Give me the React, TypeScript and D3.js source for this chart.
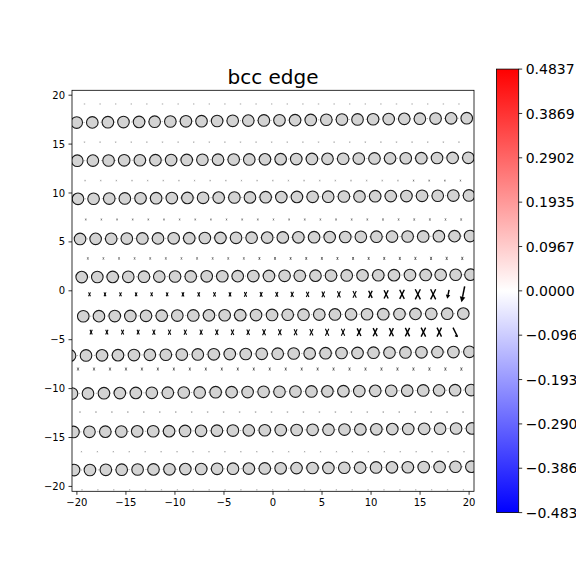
import React from 'react';
import * as d3 from 'd3';

const TITLE = 'bcc edge';
const X_TICKS = [-20, -15, -10, -5, 0, 5, 10, 15, 20];
const Y_TICKS = [-20, -15, -10, -5, 0, 5, 10, 15, 20];
const CBAR_TICKS = [0.4837, 0.3869, 0.2902, 0.1935, 0.0967, 0, -0.0967, -0.1935, -0.2902, -0.3869, -0.4837];
const CBAR_MAX = 0.4837;

// ---- atom rows (x and y of every atom, top row first) ----
const ROW_A_X = [-20.02,-18.43,-16.84,-15.25,-13.66,-12.07,-10.47,-8.88,-7.29,-5.70,-4.11,-2.52,-0.93,0.66,2.25,3.85,5.44,7.03,8.62,10.21,11.80,13.39,14.98,16.58,18.17,19.76];
const ROW_A_Y = [17.20,17.22,17.24,17.25,17.27,17.29,17.31,17.33,17.34,17.36,17.38,17.40,17.42,17.43,17.45,17.47,17.49,17.51,17.52,17.54,17.56,17.58,17.60,17.61,17.63,17.65];
const ROW_B_X = [-19.96,-18.37,-16.77,-15.18,-13.58,-11.99,-10.39,-8.80,-7.20,-5.61,-4.01,-2.42,-0.82,0.78,2.37,3.97,5.56,7.16,8.75,10.35,11.94,13.54,15.13,16.73,18.32,19.92];
const ROW_B_Y = [13.30,13.31,13.32,13.34,13.35,13.36,13.37,13.38,13.40,13.41,13.42,13.43,13.44,13.46,13.47,13.48,13.49,13.50,13.52,13.53,13.54,13.55,13.56,13.58,13.59,13.60];
const ROW_C_X = [-19.89,-18.30,-16.70,-15.11,-13.51,-11.92,-10.32,-8.73,-7.13,-5.54,-3.94,-2.35,-0.75,0.85,2.44,4.04,5.63,7.23,8.82,10.42,12.01,13.61,15.20,16.80,18.39,19.99];
const ROW_C_Y = [9.40,9.41,9.43,9.44,9.46,9.47,9.48,9.50,9.51,9.53,9.54,9.55,9.57,9.58,9.60,9.61,9.62,9.64,9.65,9.67,9.68,9.69,9.71,9.72,9.74,9.75];
const ROW_D_X = [-19.68,-18.09,-16.50,-14.91,-13.32,-11.73,-10.13,-8.54,-6.95,-5.36,-3.77,-2.18,-0.59,1.00,2.59,4.19,5.78,7.37,8.96,10.55,12.14,13.73,15.32,16.92,18.51,20.10];
const ROW_D_Y = [5.30,5.31,5.32,5.34,5.35,5.36,5.37,5.38,5.40,5.41,5.42,5.43,5.44,5.46,5.47,5.48,5.49,5.50,5.52,5.53,5.54,5.55,5.56,5.58,5.59,5.60];
const ROW_E_X = [-19.51,-17.92,-16.35,-14.76,-13.16,-11.60,-9.99,-8.39,-6.76,-5.17,-3.60,-2.01,-0.41,1.18,2.73,4.33,5.92,7.52,9.13,10.74,12.34,13.97,15.57,17.10,18.63,20.14];
const ROW_E_Y = [1.40,1.41,1.42,1.43,1.44,1.45,1.46,1.47,1.48,1.49,1.50,1.51,1.52,1.53,1.54,1.55,1.56,1.57,1.58,1.59,1.60,1.61,1.62,1.63,1.64,1.65];
const ROW_F_X = [-19.35,-17.75,-16.14,-14.55,-12.95,-11.35,-9.76,-8.13,-6.53,-4.93,-3.34,-1.73,-0.10,1.50,3.11,4.72,6.32,7.96,9.59,11.25,12.90,14.53,16.14,17.77,19.41];
const ROW_F_Y = [-2.60,-2.59,-2.58,-2.57,-2.56,-2.54,-2.53,-2.52,-2.51,-2.50,-2.49,-2.48,-2.47,-2.45,-2.44,-2.43,-2.42,-2.41,-2.40,-2.39,-2.38,-2.36,-2.35,-2.34,-2.33];
const ROW_G_X = [-20.70,-19.07,-17.44,-15.81,-14.18,-12.56,-10.93,-9.30,-7.67,-6.04,-4.41,-2.78,-1.15,0.48,2.11,3.74,5.36,6.99,8.62,10.25,11.88,13.51,15.14,16.77,18.40,20.03];
const ROW_G_Y = [-6.63,-6.61,-6.60,-6.58,-6.57,-6.55,-6.54,-6.52,-6.51,-6.49,-6.47,-6.46,-6.44,-6.43,-6.41,-6.40,-6.38,-6.36,-6.35,-6.33,-6.32,-6.30,-6.29,-6.27,-6.26,-6.24];
const ROW_H_X = [-20.50,-18.87,-17.24,-15.62,-13.99,-12.36,-10.73,-9.10,-7.48,-5.85,-4.22,-2.59,-0.96,0.66,2.29,3.92,5.55,7.18,8.80,10.43,12.06,13.69,15.32,16.94,18.57,20.20];
const ROW_H_Y = [-10.50,-10.49,-10.47,-10.46,-10.44,-10.43,-10.42,-10.40,-10.39,-10.37,-10.36,-10.35,-10.33,-10.32,-10.30,-10.29,-10.28,-10.26,-10.25,-10.23,-10.22,-10.21,-10.19,-10.18,-10.16,-10.15];
const ROW_I_X = [-20.35,-18.72,-17.10,-15.47,-13.85,-12.22,-10.60,-8.97,-7.34,-5.72,-4.09,-2.47,-0.84,0.79,2.41,4.04,5.66,7.29,8.91,10.54,12.17,13.79,15.42,17.04,18.67,20.29];
const ROW_I_Y = [-14.43,-14.42,-14.40,-14.39,-14.37,-14.36,-14.35,-14.33,-14.32,-14.30,-14.29,-14.27,-14.26,-14.24,-14.23,-14.21,-14.20,-14.19,-14.17,-14.16,-14.14,-14.13,-14.11,-14.10,-14.08,-14.07];
const ROW_J_X = [-20.29,-18.67,-17.05,-15.43,-13.81,-12.19,-10.56,-8.94,-7.32,-5.70,-4.08,-2.46,-0.84,0.78,2.40,4.03,5.65,7.27,8.89,10.51,12.13,13.75,15.37,16.99,18.61,20.23];
const ROW_J_Y = [-18.33,-18.32,-18.30,-18.29,-18.27,-18.26,-18.25,-18.23,-18.22,-18.20,-18.19,-18.18,-18.16,-18.15,-18.13,-18.12,-18.11,-18.09,-18.08,-18.06,-18.05,-18.04,-18.02,-18.01,-17.99,-17.98];

const ATOM_ROWS_X = [ROW_A_X, ROW_B_X, ROW_C_X, ROW_D_X, ROW_E_X, ROW_F_X, ROW_G_X, ROW_H_X, ROW_I_X, ROW_J_X];
const ATOM_ROWS_Y = [ROW_A_Y, ROW_B_Y, ROW_C_Y, ROW_D_Y, ROW_E_Y, ROW_F_Y, ROW_G_Y, ROW_H_Y, ROW_I_Y, ROW_J_Y];

// ---- differential displacement arrows: one row between each pair of atom rows ----
const ARROW_ROW_Y = [19.1, 15.2, 11.27, 7.29, 3.31, -0.36, -4.23, -8.0, -12.4, -16.45, -20.35];
const ARROW_ROW_SRC = [0, 0, 1, 2, 3, 4, 5, 6, 7, 8, 9];
const MAG_0 = [0.1,0.1,0.1,0.1,0.1,0.1,0.1,0.1,0.1,0.1,0.1,0.1,0.1,0.1,0.1,0.1,0.1,0.1,0.1,0.1,0.1,0.1,0.1,0.1,0.1];
const MAG_1 = [0.12,0.12,0.12,0.12,0.12,0.12,0.12,0.12,0.12,0.12,0.12,0.12,0.12,0.12,0.12,0.12,0.12,0.12,0.13,0.13,0.13,0.13,0.13,0.13,0.13];
const MAG_2 = [0.14,0.14,0.14,0.14,0.14,0.14,0.14,0.14,0.14,0.14,0.14,0.14,0.15,0.15,0.15,0.15,0.15,0.16,0.16,0.16,0.16,0.17,0.17,0.17,0.17];
const MAG_3 = [0.18,0.18,0.18,0.18,0.18,0.18,0.18,0.18,0.18,0.18,0.19,0.19,0.19,0.19,0.2,0.2,0.2,0.21,0.21,0.22,0.22,0.23,0.23,0.23,0.23];
const MAG_4 = [0.25,0.25,0.25,0.25,0.25,0.25,0.25,0.25,0.26,0.26,0.26,0.27,0.27,0.27,0.28,0.28,0.29,0.29,0.3,0.3,0.31,0.32,0.32,0.33,0.33];
const MAG_5 = [0.4,0.4,0.4,0.4,0.4,0.4,0.44,0.44,0.44,0.44,0.48,0.48,0.48,0.53,0.53,0.58,0.63,0.68,0.73,0.84,0.94,1.04,1.04,0.92,1.63];
const KIND_5 = ['x','x','x','x','x','x','x','x','x','x','x','x','x','x','x','x','x','x','x','x','x','x','x','down','down'];
const MAG_6 = [0.48,0.48,0.48,0.48,0.52,0.52,0.52,0.52,0.56,0.56,0.56,0.61,0.61,0.61,0.66,0.71,0.71,0.77,0.82,0.82,0.87,0.92,0.92,0.92];
const KIND_6 = ['x','x','x','x','x','x','x','x','x','x','x','x','x','x','x','x','x','x','x','x','x','x','x','bs'];
const MAG_7 = [0.3,0.3,0.3,0.3,0.3,0.3,0.3,0.3,0.3,0.3,0.3,0.3,0.3,0.3,0.3,0.3,0.31,0.31,0.31,0.32,0.32,0.32,0.33,0.33,0.33];
const MAG_8 = [0.15,0.15,0.15,0.15,0.15,0.15,0.15,0.15,0.15,0.15,0.15,0.15,0.15,0.15,0.15,0.15,0.15,0.15,0.15,0.15,0.16,0.16,0.16,0.16,0.16];
const MAG_9 = [0.12,0.12,0.12,0.12,0.12,0.12,0.12,0.12,0.12,0.12,0.12,0.12,0.12,0.12,0.12,0.12,0.12,0.12,0.12,0.12,0.12,0.12,0.12,0.12,0.12];
const MAG_10 = [0.1,0.1,0.1,0.1,0.1,0.1,0.1,0.1,0.1,0.1,0.1,0.1,0.1,0.1,0.1,0.1,0.1,0.1,0.1,0.1,0.1,0.1,0.1,0.1,0.1];
const ARROW_MAGS = [MAG_0, MAG_1, MAG_2, MAG_3, MAG_4, MAG_5, MAG_6, MAG_7, MAG_8, MAG_9, MAG_10];
const ARROW_KINDS: (string[] | null)[] = [null, null, null, null, null, KIND_5, KIND_6, null, null, null, null];

const AX = { left: 72, right: 474, top: 90.3, bottom: 491.3 };
const CB = { left: 496.5, width: 22.2, top: 69.1, bottom: 512.6 };
const FONT = 'DejaVu Sans, sans-serif';

export default function App() {
  const x = d3.scaleLinear().domain([-20.5, 20.5]).range([AX.left, AX.right]);
  const y = d3.scaleLinear().domain([-20.5, 20.5]).range([AX.bottom, AX.top]);
  const cy = d3.scaleLinear().domain([-CBAR_MAX, CBAR_MAX]).range([CB.bottom, CB.top]);
  const fmt = d3.format('.4f');
  const tickFmt = d3.format('d');
  const pxPerUnit = x(1) - x(0);
  const line = d3.line<[number, number]>().x(d => x(d[0])).y(d => y(d[1]));

  const arrows: React.ReactNode[] = [];
  ARROW_ROW_Y.forEach((ry, r) => {
    const src = ATOM_ROWS_X[ARROW_ROW_SRC[r]];
    const mags = ARROW_MAGS[r];
    const kinds = ARROW_KINDS[r];
    mags.forEach((m, i) => {
      const mx = (src[i] + src[i + 1]) / 2;
      const cx = x(mx);
      const cyy = y(ry);
      const h = m * pxPerUnit;
      const kind = kinds ? kinds[i] : 'x';
      const sw = h > 7 ? 1.4 : h > 3.5 ? 1.05 : 0.8;
      const op = h < 1.6 ? 0.35 : h < 2.6 ? 0.55 : h < 3.5 ? 0.7 : 1;
      const key = `a${r}-${i}`;
      if (kind === 'x') {
        const w = 0.5 * h;
        arrows.push(
          <g key={key} stroke="#000" strokeWidth={sw} opacity={op} strokeLinecap="butt">
            <line x1={cx - w / 2} y1={cyy + h / 2} x2={cx + w / 2} y2={cyy - h / 2} />
            <line x1={cx - w / 2} y1={cyy - h / 2} x2={cx + w / 2} y2={cyy + h / 2} />
          </g>
        );
      } else if (kind === 'down') {
        const x1 = cx + 0.1 * h, y1 = cyy - h / 2, x2 = cx - 0.1 * h, y2 = cyy + h / 2;
        const hl = Math.min(5.5, 0.45 * h), hw = Math.min(2.8, 0.25 * h);
        const ang = Math.atan2(y2 - y1, x2 - x1);
        const bx = x2 - hl * Math.cos(ang), by = y2 - hl * Math.sin(ang);
        const px = -Math.sin(ang) * hw, py = Math.cos(ang) * hw;
        arrows.push(
          <g key={key}>
            <line x1={x1} y1={y1} x2={bx} y2={by} stroke="#000" strokeWidth={1.5} />
            <polygon points={`${x2},${y2} ${bx + px},${by + py} ${bx - px},${by - py}`} fill="#000" />
          </g>
        );
      } else {
        const w = 0.5 * h;
        arrows.push(
          <g key={key} stroke="#000" strokeWidth={1.4}>
            <line x1={cx - w / 2} y1={cyy - h / 2} x2={cx + w / 2} y2={cyy + h / 2} />
            <line x1={cx + w / 2 - 2.5} y1={cyy + h / 2 - 1} x2={cx + w / 2} y2={cyy + h / 2} />
          </g>
        );
      }
    });
  });

  return (
    <svg width={576} height={576} style={{ position: 'absolute', left: 0, top: 0 }} fontFamily={FONT}>
      <defs>
        <clipPath id="axclip">
          <rect x={AX.left} y={AX.top} width={AX.right - AX.left} height={AX.bottom - AX.top} />
        </clipPath>
        <linearGradient id="bwr" x1="0" y1="0" x2="0" y2="1">
          <stop offset="0" stopColor="#ff0000" />
          <stop offset="0.5" stopColor="#ffffff" />
          <stop offset="1" stopColor="#0000ff" />
        </linearGradient>
      </defs>
      <rect x={0} y={0} width={576} height={576} fill="#fff" />
      <rect x={AX.left} y={AX.top} width={AX.right - AX.left} height={AX.bottom - AX.top} fill="#fff" />

      <g clipPath="url(#axclip)">
        {ATOM_ROWS_X.map((rx, r) => (
          <path key={`l${r}`} d={line(rx.map((v, i) => [v, ATOM_ROWS_Y[r][i]] as [number, number])) || ''}
            fill="none" stroke="#999" strokeWidth={0.8} strokeDasharray="1.2,2.2" />
        ))}
        {arrows}
        {ATOM_ROWS_X.map((rx, r) =>
          rx.map((v, i) => (
            <circle key={`c${r}-${i}`} cx={x(v)} cy={y(ATOM_ROWS_Y[r][i])} r={5.8}
              fill="#d3d3d3" stroke="#1a1a1a" strokeWidth={1.1} />
          ))
        )}
      </g>

      <rect x={AX.left} y={AX.top} width={AX.right - AX.left} height={AX.bottom - AX.top}
        fill="none" stroke="#000" strokeWidth={0.8} />

      {X_TICKS.map(t => (
        <g key={`xt${t}`}>
          <line x1={x(t)} x2={x(t)} y1={AX.bottom} y2={AX.bottom + 3.5} stroke="#000" strokeWidth={0.8} />
          <text x={x(t)} y={AX.bottom + 14.8} fontSize={10} textAnchor="middle" fill="#000">
            {t < 0 ? '\u2212' + tickFmt(-t) : tickFmt(t)}
          </text>
        </g>
      ))}
      {Y_TICKS.map(t => (
        <g key={`yt${t}`}>
          <line x1={AX.left - 3.5} x2={AX.left} y1={y(t)} y2={y(t)} stroke="#000" strokeWidth={0.8} />
          <text x={AX.left - 7} y={y(t)} dy="0.36em" fontSize={10} textAnchor="end" fill="#000">
            {t < 0 ? '\u2212' + tickFmt(-t) : tickFmt(t)}
          </text>
        </g>
      ))}

      <text x={(AX.left + AX.right) / 2} y={84} fontSize={20} textAnchor="middle" fill="#000">{TITLE}</text>

      <rect x={CB.left} y={CB.top} width={CB.width} height={CB.bottom - CB.top} fill="url(#bwr)" />
      <rect x={CB.left} y={CB.top} width={CB.width} height={CB.bottom - CB.top} fill="none" stroke="#000" strokeWidth={0.8} />
      {CBAR_TICKS.map(t => (
        <g key={`ct${t}`}>
          <line x1={CB.left + CB.width} x2={CB.left + CB.width + 3.5} y1={cy(t)} y2={cy(t)} stroke="#000" strokeWidth={0.8} />
          <text x={CB.left + CB.width + 7} y={cy(t)} dy="0.36em" fontSize={14} fill="#000">{fmt(t)}</text>
        </g>
      ))}
    </svg>
  );
}
